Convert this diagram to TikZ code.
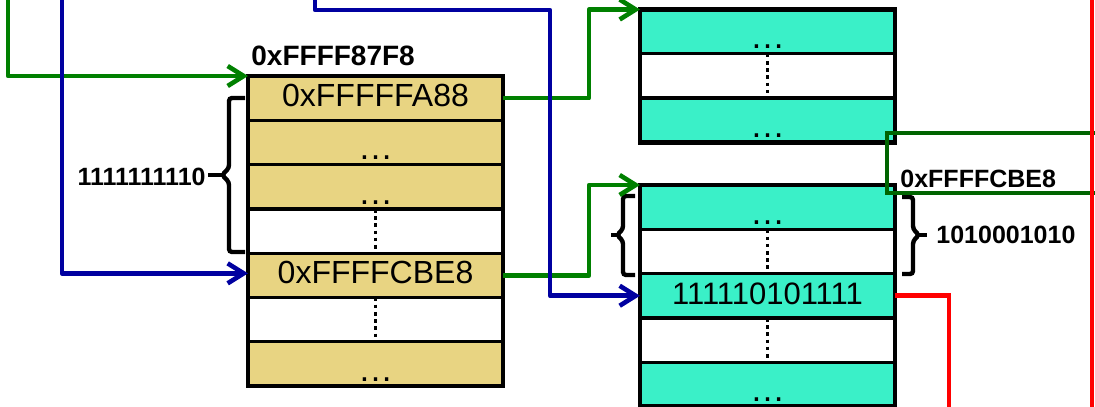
\documentclass[tikz,border=0pt]{standalone}
\usepackage{fontspec}
\setmainfont{Liberation Sans}
\usetikzlibrary{arrows.meta,calc}
\definecolor{tanc}{RGB}{232,212,130}
\definecolor{tealc}{RGB}{58,240,200}
\definecolor{garc}{RGB}{0,128,0}
\definecolor{dgreen}{RGB}{0,100,0}
\definecolor{navyc}{RGB}{0,0,160}
\newcommand{\dotsrow}{{\fontsize{17.5}{19}\selectfont\raisebox{-4.5pt}{…}}}
\begin{document}
\begin{tikzpicture}[x=0.5pt,y=-0.5pt,
  cell/.style={draw=black,line width=1.6pt,minimum width=127.5pt,minimum height=22.15pt,
    inner sep=0pt,outer sep=0pt,font=\fontsize{16}{19}\selectfont,text height=11.5pt,text depth=3.2pt},
  tanrow/.style={cell,fill=tanc},
  tealrow/.style={cell,fill=tealc},
  whiterow/.style={cell,fill=white},
  outerbox/.style={draw=black,line width=2.3pt},
  dotline/.style={line width=1.9pt,dash pattern=on 1.8pt off 1.8pt},
  garrow/.style={draw=garc,line width=2.3pt,line join=round,-{Straight Barb[length=8pt,width=10pt]}},
  barrow/.style={draw=navyc,line width=2.3pt,line join=round,-{Straight Barb[length=8pt,width=10pt]}},
  rline/.style={draw=red,line width=2.3pt},
  bracketline/.style={draw=black,line width=2.2pt,rounded corners=1.5pt},
  boldlbl/.style={inner sep=0pt,font=\bfseries\fontsize{12.5}{15}\selectfont}
]
\useasboundingbox (0,0) rectangle (1095,406);

% left table
\node[tanrow]   (L1) at (375.5,98.15)  {0xFFFFFA88};
\node[tanrow]   (L2) at (375.5,142.45) {\dotsrow};
\node[tanrow]   (L3) at (375.5,186.75) {\dotsrow};
\node[whiterow] (L4) at (375.5,231.05) {};
\node[tanrow]   (L5) at (375.5,275.35) {0xFFFFCBE8};
\node[whiterow] (L6) at (375.5,319.65) {};
\node[tanrow]   (L7) at (375.5,363.95) {\dotsrow};
\draw[outerbox] (L1.north west) rectangle (L7.south east);
\draw[dotline] (L4.north) -- (L4.south);
\draw[dotline] (L6.north) -- (L6.south);

% top right table
\node[tealrow]  (T1) at (767.5,31.65)  {\dotsrow};
\node[whiterow] (T2) at (767.5,75.95)  {};
\node[tealrow]  (T3) at (767.5,120.25) {\dotsrow};
\draw[outerbox] (T1.north west) rectangle (T3.south east);
\draw[dotline] (T2.north) -- (T2.south);

% bottom right table
\node[tealrow]  (B1) at (767.5,207.15) {\dotsrow};
\node[whiterow] (B2) at (767.5,251.45) {};
\node[tealrow,font=\fontsize{15.5}{18}\selectfont]  (B3) at (767.5,295.75) {111110101111};
\node[whiterow] (B4) at (767.5,340.05) {};
\node[tealrow]  (B5) at (767.5,384.35) {\dotsrow};
\draw[outerbox] (B1.north west) rectangle (B5.south east);
\draw[dotline] (B2.north) -- (B2.south);
\draw[dotline] (B4.north) -- (B4.south);

% braces
\draw[bracketline] (245,98) -- (229,98) -- (229,168) -- (222,175) -- (229,182) -- (229,252) -- (245,252);
\draw[line width=2.2pt] (223,175) -- (208,175);
\draw[bracketline] (902,197) -- (913,197) -- (913,229) -- (919,235) -- (913,241) -- (913,274) -- (902,274);
\draw[line width=2.2pt] (918,235) -- (927,235);
\draw[bracketline] (635,196) -- (623,196) -- (623,229) -- (617,235) -- (623,241) -- (623,275) -- (635,275);
\draw[line width=2.2pt] (618,235) -- (611,235);

% labels
\node[boldlbl,font=\bfseries\fontsize{14}{16}\selectfont,anchor=base west] (lbla) at (251,66) {0xFFFF87F8};
\node[boldlbl,anchor=base east] (lblb) at (206,185) {1111111110};
\node[boldlbl,anchor=base west] (lbld) at (936,243) {1010001010};

% green arrows
\coordinate (gstart) at (8,-4);
\draw[garrow] (gstart) |- (L1.north west);
\draw[garrow] (L1.east) -| ($(T1.north west)+(-51,0)$) -- (T1.north west);
\draw[garrow] (L5.east) -| ($(B1.north west)+(-51,0)$) -- (B1.north west);

% blue arrows
\coordinate (bstart1) at (62,-4);
\draw[barrow] (bstart1) |- ($(L5.west)+(0,-2)$);
\coordinate (bstart2) at (315,-4);
\draw[barrow] (bstart2) -- ++(0,14) -| ($(B3.west)+(-90,0)$) -- (B3.west);

% green box
\draw[draw=dgreen,line width=2.3pt] (887,133) rectangle (1110,193);
\node[boldlbl,anchor=base west] (lblc) at (900,188) {0xFFFFCBE8};

% red lines
\coordinate (rend) at (949,414);
\draw[rline] (B3.east) -| (rend);
\coordinate (rtop) at (1092,-4);
\coordinate (rbot) at (1092,414);
\draw[rline] (rtop) -- (rbot);
\end{tikzpicture}
\end{document}
